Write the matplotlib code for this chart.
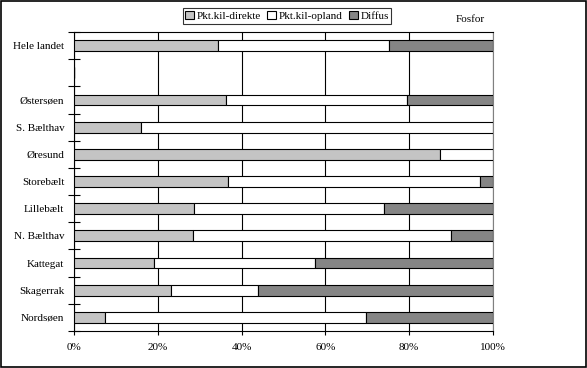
import matplotlib
matplotlib.use("Agg")
import matplotlib.pyplot as plt
import numpy as np

plt.rcParams["font.family"] = ["Liberation Serif", "DejaVu Serif"]
plt.rcParams["font.size"] = 8

# Andel af fosfor-tilførsel pr. farvand (pct.)
regions = ["Hele landet", "", "Østersøen", "S. Bælthav", "Øresund", "Storebælt",
           "Lillebælt", "N. Bælthav", "Kattegat", "Skagerrak", "Nordsøen"]
direkte = [34.3, 0, 36.2, 16.1, 87.3, 36.8, 28.7, 28.3, 19.2, 23.2, 7.5]
opland = [40.9, 0, 43.3, 83.9, 12.7, 60.0, 45.3, 61.7, 38.2, 20.6, 62.2]
diffus = [24.8, 0, 20.5, 0.0, 0.0, 3.2, 26.0, 10.0, 42.6, 56.2, 30.3]

fig = plt.figure(figsize=(5.87, 3.68), dpi=100)
ax = fig.add_axes([74 / 587, 1 - 331 / 368, (493 - 74) / 587, (331 - 32) / 368])

y = np.arange(len(regions))
d = np.array(direkte)
o = np.array(opland)
f = np.array(diffus)
h = 0.4
kw = dict(height=h, edgecolor="black", linewidth=0.8, zorder=3)
ax.barh(y, d, color="#c4c4c4", label="Pkt.kil-direkte", **kw)
ax.barh(y, o, left=d, color="white", label="Pkt.kil-opland", **kw)
ax.barh(y, f, left=d + o, color="#858585", label="Diffus", **kw)

ax.set_xlim(0, 100)
ax.set_ylim(len(regions) - 0.5, -0.5)
ax.set_xticks([0, 20, 40, 60, 80, 100])
ax.set_xticklabels(["0%", "20%", "40%", "60%", "80%", "100%"])
ax.set_yticks(y)
ax.set_yticklabels(regions)
ax.tick_params(axis="y", length=0, pad=7)
ax.set_yticks(np.arange(len(regions) + 1) - 0.5, minor=True)
ax.tick_params(axis="y", which="minor", length=8, direction="inout", width=0.8)
ax.tick_params(axis="x", length=3, width=0.8, direction="out", pad=6)
ax.xaxis.grid(True, color="black", linewidth=0.8, zorder=1)
ax.set_axisbelow(True)

for s in ["left", "bottom", "top"]:
    ax.spines[s].set_linewidth(0.8)
    ax.spines[s].set_color("black")
ax.spines["right"].set_color("#808080")
ax.spines["right"].set_linewidth(0.8)

leg = fig.legend(loc="center", bbox_to_anchor=(0.489, 1 - 16 / 368), ncol=3,
                 frameon=True, fancybox=False, edgecolor="black",
                 handlelength=0.8, handleheight=0.8, handletextpad=0.2,
                 columnspacing=0.6, borderpad=0.25, fontsize=8)
leg.get_frame().set_linewidth(0.8)

fig.text(470 / 587, 1 - 20 / 368, "Fosfor", ha="center", va="center", fontsize=8)

# ramme om hele figuren
fig.patches.append(plt.Rectangle((0.001, 0.002), 0.997, 0.996, transform=fig.transFigure,
                                 fill=False, edgecolor="black", linewidth=1.2))

fig.savefig("out.png", dpi=100)
